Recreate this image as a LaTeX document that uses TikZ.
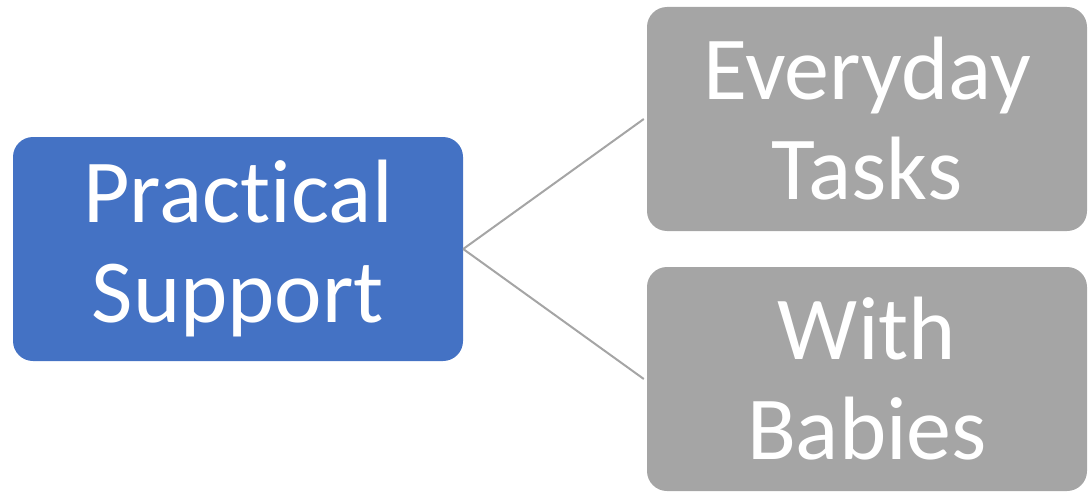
\documentclass[tikz,border=0pt]{standalone}
\usepackage{fontspec}
\setmainfont{Carlito}[Ligatures=NoCommon]
\definecolor{hubblue}{HTML}{4472C4}
\definecolor{leafgray}{HTML}{A5A5A5}
\begin{document}
\begin{tikzpicture}[x=1pt,y=1pt,line cap=butt,line join=miter,
	font=\fontsize{90}{100}\selectfont]
	\tikzset{box/.style={rounded corners=20pt,text=white,align=center,inner sep=0pt},
		hub/.style={box,fill=hubblue,minimum width=450pt,minimum height=224pt},
		leaf/.style={box,fill=leafgray,minimum width=440pt,minimum height=224pt},
		link/.style={draw=leafgray,line width=2pt}}
	\useasboundingbox (0,0) rectangle (1089,491);
	\node[hub] (prac) at (238,242) {Practical\\Support};
	\node[leaf] (every) at (867,372) {Everyday\\Tasks};
	\node[leaf] (babies) at (867,112) {With\\Babies};
	%--------- connectors
	\draw[link] (prac.east) -- ([xshift=-3pt]every.west);
	\draw[link] (prac.east) -- ([xshift=-3pt]babies.west);
\end{tikzpicture}
\end{document}
